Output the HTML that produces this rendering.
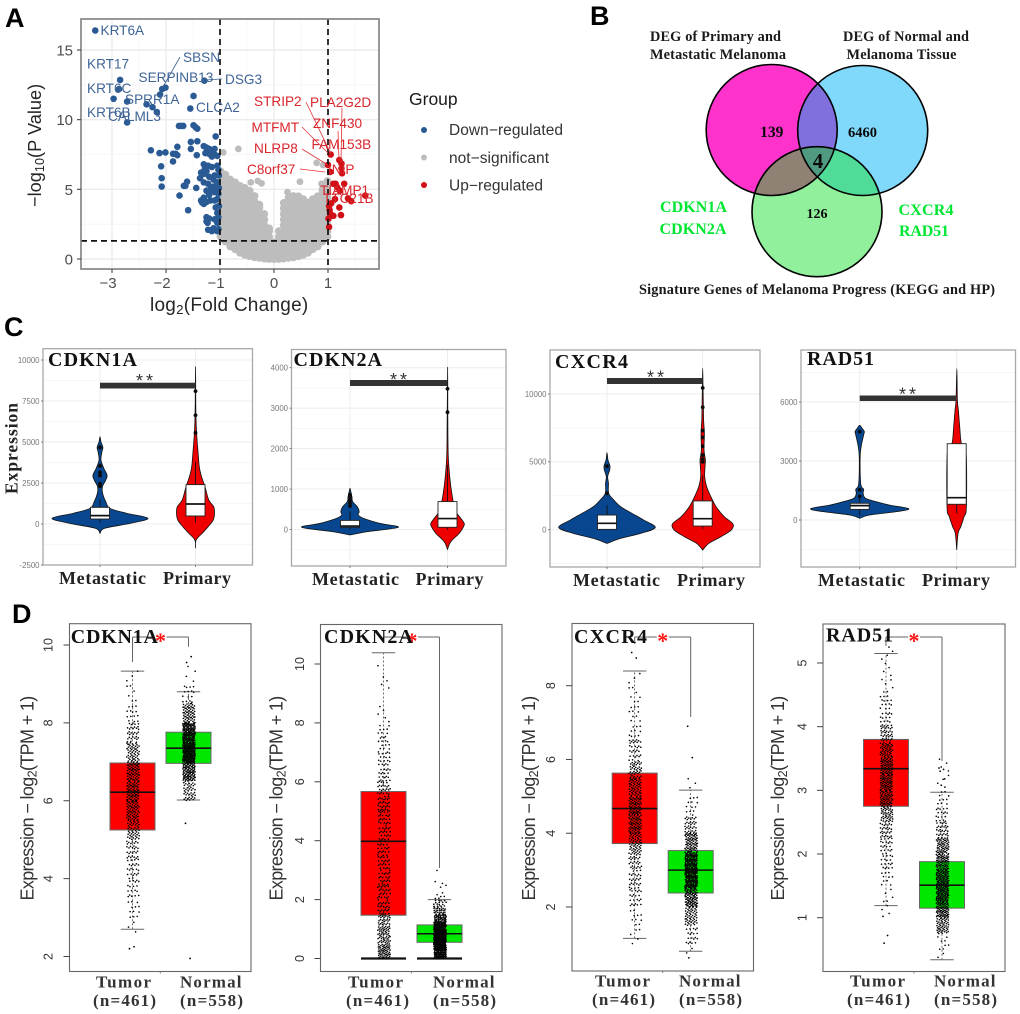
<!DOCTYPE html>
<html lang="en">
<head>
<meta charset="utf-8">
<title>Melanoma differential expression figure</title>
<style>
html,body{margin:0;padding:0;background:#fff;width:1020px;height:1014px;overflow:hidden}
svg{display:block;filter:blur(0.3px)}
.sans{font-family:"Liberation Sans",sans-serif}
.serif{font-family:"Liberation Serif",serif;font-weight:bold}
.letter{font-family:"Liberation Sans",sans-serif;font-weight:bold;font-size:27px;fill:#000}
.gb{font-size:13.6px;fill:#3f6496}
.gr{font-size:13.6px;fill:#d9262c}
.tick{font-size:15px;fill:#4d4d4d}
</style>
</head>
<body>
<svg id="figure" width="1020" height="1014" viewBox="0 0 1020 1014" xmlns="http://www.w3.org/2000/svg">
  <rect width="1020" height="1014" fill="#fff"/>

  <text class="letter" x="5" y="27">A</text>
  <text class="letter" x="590" y="25">B</text>
  <text class="letter" x="4" y="336">C</text>
  <text class="letter" x="12" y="623">D</text>

  <!-- PANEL A -->
  <g id="volcano"></g>
  <g class="sans">
    <g stroke="#3f6496" stroke-width="0.8">
      <line x1="180" y1="57" x2="163" y2="87"/>
      <line x1="203" y1="80" x2="222" y2="79"/>
    </g>
    <g stroke="#e0343a" stroke-width="0.8">
      <line x1="306" y1="102" x2="331" y2="154"/>
      <line x1="342" y1="108" x2="341" y2="163"/>
      <line x1="338" y1="131" x2="339" y2="160"/>
      <line x1="302" y1="127" x2="328" y2="153"/>
      <line x1="302" y1="149" x2="328" y2="165"/>
      <line x1="300" y1="169" x2="325" y2="172"/>
    </g>
    <text class="gb" x="100.5" y="35">KRT6A</text>
    <text class="gb" x="87" y="68.5">KRT17</text>
    <text class="gb" x="183" y="62">SBSN</text>
    <text class="gb" x="138.5" y="82">SERPINB13</text>
    <text class="gb" x="225" y="84">DSG3</text>
    <text class="gb" x="87" y="93">KRT6C</text>
    <text class="gb" x="125" y="104">SPRR1A</text>
    <text class="gb" x="196" y="112">CLCA2</text>
    <text class="gb" x="87" y="117">KRT6B</text>
    <text class="gb" x="108" y="121">CALML3</text>
    <text class="gr" x="254" y="106">STRIP2</text>
    <text class="gr" x="310" y="107">PLA2G2D</text>
    <text class="gr" x="313" y="128">ZNF430</text>
    <text class="gr" x="251.5" y="132">MTFMT</text>
    <text class="gr" x="311.5" y="149">FAM153B</text>
    <text class="gr" x="254" y="153">NLRP8</text>
    <text class="gr" x="328" y="174">INIP</text>
    <text class="gr" x="247" y="174">C8orf37</text>
    <text class="gr" x="320" y="195">TIAMP1</text>
    <text class="gr" x="323" y="203">TTC21B</text>
  </g>
  <text class="sans" transform="translate(41,207) rotate(-90)" font-size="18.2" fill="#262626">−log<tspan font-size="12.7" dy="3">10</tspan><tspan dy="-3">(P Value)</tspan></text>
  <text class="sans" x="150" y="311" font-size="19" letter-spacing="0.25" fill="#262626">log<tspan font-size="13.3" dy="3">2</tspan><tspan dy="-3">(Fold Change)</tspan></text>

  <g class="sans">
    <text x="409" y="105" font-size="17.5" fill="#1a1a1a">Group</text>
    <circle cx="424" cy="130" r="3" fill="#2a5a94"/>
    <text x="449" y="135" font-size="15.5" textLength="114" fill="#333">Down−regulated</text>
    <circle cx="424" cy="157.5" r="3" fill="#bdbdbd"/>
    <text x="449" y="163" font-size="15.5" textLength="100" fill="#333">not−significant</text>
    <circle cx="424" cy="185" r="3" fill="#d00f17"/>
    <text x="449" y="190.5" font-size="15.5" textLength="94" fill="#333">Up−regulated</text>
  </g>

  <!-- PANEL B -->
  <g>
    <defs>
      <clipPath id="clip-m"><circle cx="771.7" cy="130" r="65.5"/></clipPath>
      <clipPath id="clip-b"><circle cx="862.7" cy="130.5" r="65"/></clipPath>
    </defs>
    <circle cx="771.7" cy="130" r="65.5" fill="#ff33cc"/>
    <circle cx="862.7" cy="130.5" r="65" fill="#80d8fb"/>
    <circle cx="817" cy="211.7" r="65" fill="#90f09c"/>
    <circle cx="862.7" cy="130.5" r="65" fill="#8070dd" clip-path="url(#clip-m)"/>
    <circle cx="817" cy="211.7" r="65" fill="#8f8275" clip-path="url(#clip-m)"/>
    <circle cx="817" cy="211.7" r="65" fill="#50dc98" clip-path="url(#clip-b)"/>
    <g clip-path="url(#clip-m)"><circle cx="817" cy="211.7" r="65" fill="#4f9a80" clip-path="url(#clip-b)"/></g>
    <circle cx="771.7" cy="130" r="65.5" fill="none" stroke="#000" stroke-width="1.6"/>
    <circle cx="862.7" cy="130.5" r="65" fill="none" stroke="#000" stroke-width="1.6"/>
    <circle cx="817" cy="211.7" r="65" fill="none" stroke="#000" stroke-width="1.6"/>
    <g class="serif" fill="#1a1a1a">
      <text x="650" y="41" font-size="14.3" textLength="131">DEG of Primary and</text>
      <text x="650" y="59" font-size="14.3" textLength="136">Metastatic Melanoma</text>
      <text x="843" y="41" font-size="14.3" textLength="126">DEG of Normal and</text>
      <text x="846.5" y="59" font-size="14.3" textLength="110">Melanoma Tissue</text>
      <text x="639" y="294" font-size="14.3" textLength="356">Signature Genes of Melanoma Progress (KEGG and HP)</text>
    </g>
    <g class="serif" fill="#0a0a0a" text-anchor="middle">
      <text x="771.7" y="137" font-size="15.5">139</text>
      <text x="862.5" y="137" font-size="14.5">6460</text>
      <text x="818" y="168" font-size="21">4</text>
      <text x="817" y="218" font-size="14">126</text>
    </g>
    <g class="serif" fill="#00e632" font-size="16">
      <text x="660" y="212" textLength="67">CDKN1A</text>
      <text x="659.5" y="234" textLength="67">CDKN2A</text>
      <text x="898.5" y="215" textLength="55">CXCR4</text>
      <text x="899" y="236" textLength="50">RAD51</text>
    </g>
  </g>

  <text class="serif" transform="translate(17.5,494) rotate(-90)" font-size="17.5" textLength="91" fill="#222">Expression</text>

  <!-- PANEL C and D drawn by script -->
  <g id="violins"></g>
  <g id="boxes"></g>
</svg>

<script>
/* ---------- Panel A data (log2 fold change, -log10 p) ---------- */
const volcanoXTicks = [-3, -2, -1, 0, 1];
const volcanoYTicks = [0, 5, 10, 15];
const volcanoThresholdsX = [-1, 1];
const volcanoThresholdY = 1.3;
const downPoints = [
 [-3.31,16.4],[-2.85,12.85],[-2.87,12.2],[-2.97,11.5],[-2.72,11.3],[-2.72,9.8],[-2.36,11.1],[-2.25,10.9],[-2.17,10.55],[-2.11,11.8],
 [-2.07,12.2],[-2.01,12.3],[-1.29,12.8],[-1.49,11.7],[-1.55,10.8],[-1.76,9.55],[-1.72,9.55],[-1.68,9.55],[-1.49,9.6],[-1.45,9.45],
 [-1.42,9.35],[-1.08,8.8],[-1.54,8.4],[-1.42,8.45],[-1.79,8.05],[-1.54,7.9],[-2.28,7.8],[-2.12,7.6],[-2.01,7.65],[-1.87,7.55],
 [-1.82,7.55],[-1.79,7.45],[-1.43,7.45],[-1.87,7.0],[-2.09,6.65],[-2.08,5.8],[-2.08,5.2],[-1.67,5.25],[-1.64,5.25],[-1.61,5.55],
 [-1.44,5.1],[-1.75,4.55],[-1.59,3.5],[-1.3,8.1],[-1.25,8.0],[-1.2,7.9],[-1.15,7.8],[-1.1,7.9],[-1.27,7.6],[-1.2,7.55],[-1.1,7.5],
 [-1.05,7.4],[-1.15,7.35],[-1.3,6.8],[-1.28,6.5],[-1.22,6.7],[-1.15,6.6],[-1.05,6.7],[-1.03,6.4],[-1.35,6.2],[-1.3,6.1],[-1.25,6.3],
 [-1.37,5.8],[-1.2,5.9],[-1.1,6.0],[-1.02,6.0],[-1.12,5.7],[-1.3,5.5],[-1.22,5.4],[-1.05,5.5],[-1.12,5.2],[-1.02,5.1],[-1.18,5.0],
 [-1.25,4.9],[-1.1,4.8],[-1.03,4.7],[-1.2,4.6],[-1.3,4.4],[-1.35,4.2],[-1.33,4.05],[-1.25,4.1],[-1.3,3.95],[-1.18,4.2],[-1.1,4.2],
 [-1.05,4.3],[-1.02,3.8],[-1.08,3.7],[-1.05,3.3],[-1.25,3.0],[-1.2,2.9],[-1.25,2.7],[-1.23,2.6],[-1.1,2.85],[-1.03,3.0],[-1.05,2.6],
 [-1.22,2.1],[-1.12,2.2],[-1.03,2.15],[-1.05,2.0],[-1.15,2.0]
];
const upPoints = [
 [1.05,7.5],[1.21,7.1],[1.25,6.85],[1.0,6.75],[1.25,6.5],[1.04,6.25],[1.26,6.15],[1.3,5.4],[1.1,5.4],[1.14,5.4],[1.17,5.15],[1.22,4.9],
 [1.13,4.3],[1.37,4.35],[1.43,4.15],[1.69,4.55],[1.02,3.8],[1.21,3.7],[1.03,3.5],[1.04,3.25],[1.1,3.1],[1.24,3.15],[1.02,2.3],[1.01,2.9],[1.06,4.0]
];
const greyColumnLfc = [-0.99,-0.9,-0.81,-0.72,-0.63,-0.54,-0.45,-0.36,-0.27,-0.18,-0.09,0,0.09,0.18,0.27,0.36,0.45,0.54,0.63,0.72,0.81,0.9,0.99];
const greyColumnP = [
 [1.6,2.0,2.4,2.8,3.2,3.6,4.0,4.4,4.8,5.2,5.6,6.0,6.3],
 [1.25,1.65,2.05,2.45,2.85,3.25,3.65,4.05,4.45,4.85,5.25,5.65,6.05],
 [0.9,1.3,1.7,2.1,2.5,2.9,3.3,3.7,4.1,4.5,4.9,5.3,5.7],
 [0.7,1.1,1.5,1.9,2.3,2.7,3.1,3.5,3.9,4.3,4.7,5.1,5.5],
 [0.45,0.85,1.25,1.65,2.05,2.45,2.85,3.25,3.65,4.05,4.45,4.85,5.25],
 [0.3,0.7,1.1,1.5,1.9,2.3,2.7,3.1,3.5,3.9,4.3,4.7,5.1],
 [0.2,0.6,1.0,1.4,1.8,2.2,2.6,3.0,3.4,3.8,4.2,4.6,4.9],
 [0.12,0.52,0.92,1.32,1.72,2.12,2.52,2.92,3.32,3.72,4.12,4.52],
 [0.08,0.48,0.88,1.28,1.68,2.08,2.48,2.88,3.28,3.68,3.9],
 [0.03,0.43,0.83,1.23,1.63,2.03,2.43,2.83,3.23],
 [0.0,0.4,0.8,1.2,1.6,2.0,2.2],
 [0.0,0.4,0.8,1.2],
 [0.0,0.4,0.8,1.2,1.6,2.0],
 [0.03,0.43,0.83,1.23,1.63,2.03,2.43,2.83,3.23,3.63,4.03],
 [0.08,0.48,0.88,1.28,1.68,2.08,2.48,2.88,3.28,3.68,4.08,4.4],
 [0.12,0.52,0.92,1.32,1.72,2.12,2.52,2.92,3.32,3.72,4.12,4.52],
 [0.2,0.6,1.0,1.4,1.8,2.2,2.6,3.0,3.4,3.8,4.2,4.5],
 [0.3,0.7,1.1,1.5,1.9,2.3,2.7,3.1,3.5,3.9,4.3],
 [0.45,0.85,1.25,1.65,2.05,2.45,2.85,3.25,3.65,4.05],
 [0.7,1.1,1.5,1.9,2.3,2.7,3.1,3.5,3.9,4.3],
 [0.9,1.3,1.7,2.1,2.5,2.9,3.3,3.7,4.1,4.5],
 [1.25,1.65,2.05,2.45,2.85,3.25,3.65,4.05,4.45,4.85,5.0],
 [1.6,2.0,2.4,2.8,3.2,3.6,4.0,4.4,4.8,5.2,5.6]
];
const greyExtras = [[-0.66,7.9],[-0.94,7.65],[0.79,6.9],[0.91,6.75],[0.48,5.55],[-0.43,5.5],[-0.3,5.6],[-0.23,5.43],[0.25,4.8],[0.88,5.4]];

/* ---------- Panel C data ---------- */
const violinCategories = ['Metastatic', 'Primary'];
const cdkn1aTicks = [-2500, 0, 2500, 5000, 7500, 10000];
const cdkn2aTicks = [0, 1000, 2000, 3000, 4000];
const cxcr4Ticks = [0, 5000, 10000];
const rad51Ticks = [0, 3000, 6000];
const cdkn1aMetaValues = [-570,-260,40,345,650,950,1360,1870,2270,2680,2980,3390,3900,4400,4670,5010,5320];
const cdkn1aMetaDensity = [0,.1,.63,1,.56,.21,.12,.055,.05,.12,.147,.08,.02,.04,.06,.02,0];
const cdkn1aPrimValues = [-1480,-975,-570,-160,240,650,1050,1460,2270,2880,3490,4300,5320,6330,7350,9580];
const cdkn1aPrimDensity = [0,.035,.35,.67,.93,1,.96,.7,.5,.32,.2,.14,.07,.03,.015,.005];
const cdkn1aMetaBox = [305,510,1015,100,1500];
const cdkn1aPrimBox = [490,1220,2400,100,3800];
const cdkn1aMetaOutliers = [4670,3540,3150,2950,2450,2300];
const cdkn1aPrimOutliers = [8100,6630,5560];
const cdkn2aMetaValues = [-135,-55,55,150,275,360,440,565,690,810,975,1020];
const cdkn2aMetaDensity = [0,.35,1,.62,.28,.17,.19,.15,.055,.04,.01,0];
const cdkn2aPrimValues = [-490,-300,-95,70,150,275,440,650,1060,1470,1880,2700,4010];
const cdkn2aPrimDensity = [0,.2,.7,.96,1,.8,.5,.36,.2,.1,.04,.02,.01];
const cdkn2aMetaBox = [55,85,225,0,450];
const cdkn2aPrimBox = [55,270,690,0,1600];
const cdkn2aMetaOutliers = [860,800,720,650,580];
const cdkn2aPrimOutliers = [3480,2900];
const cxcr4MetaValues = [-1010,-640,-270,170,710,1200,1700,2190,2680,3420,3910,4400,4720,5140,5680];
const cxcr4MetaDensity = [0,.28,.7,1,.76,.52,.28,.14,.035,.03,.014,.055,.06,.02,0];
const cxcr4PrimValues = [-1500,-1010,-520,-25,420,960,1700,2430,3170,3910,4650,5140,5880,7110,8090,9320,10550,11900];
const cxcr4PrimDensity = [0,.2,.6,.94,1,.71,.44,.27,.13,.066,.077,.088,.044,.055,.03,.02,.01,0];
const cxcr4MetaBox = [25,470,1080,0,1820];
const cxcr4PrimBox = [270,810,2120,60,4000];
const cxcr4MetaOutliers = [4680,2680];
const cxcr4PrimOutliers = [10450,9020,7300,6800,6150,5500,5200,5000];
const rad51MetaValues = [85,254,424,576,763,930,1100,1360,1560,1860,3390,4320,4490,4660,4810];
const rad51MetaDensity = [0,.2,.75,1,.6,.34,.12,.07,.08,.02,.013,.08,.095,.05,0];
const rad51PrimValues = [-1525,-680,-340,170,680,3390,3900,4750,5600,6100,7700];
const rad51PrimDensity = [0,.14,.42,.76,1,.97,.48,.31,.17,.07,.017];
const rad51MetaBox = [540,730,850,220,1200];
const rad51PrimBox = [800,1135,3880,340,3880];
const rad51MetaOutliers = [4490,1530,1200];
const rad51PrimOutliers = [];

/* ---------- Panel D data: histogram counts per bin of the jittered dots, box stats [q1, median, q3, low, high] ---------- */
const boxCategories = ['Tumor', 'Normal'];
const boxCounts = ['(n=461)', '(n=558)'];
const d1Ticks = [2, 4, 6, 8, 10];
const d2Ticks = [0, 2, 4, 6, 8, 10];
const d3Ticks = [2, 4, 6, 8];
const d4Ticks = [1, 2, 3, 4, 5];
const d1TumorBox = [5.25,6.22,6.97,2.7,9.33];
const d1NormalBox = [6.96,7.35,7.76,6.02,8.8];
const d1TumorBins = [3,12,18,24,30,48,62,72,68,52,32,14,6,3];
const d1NormalBins = [40,110,170,140,65,15,4];
const d1TumorOutliers = [2.2,2.25];
const d1NormalOutliers = [5.42,1.95,9.55,9.7];
const d2TumorBox = [1.47,3.98,5.67,0,10.38];
const d2NormalBox = [0.55,0.84,1.14,0,2.0];
const d2TumorBins = [60,45,38,28,26,24,22,22,22,24,28,26,20,18,14,10,4,1,3,2];
const d2NormalBins = [70,90,110,110,75,45,28,16,6,2,2,1];
const d2TumorOutliers = [];
const d2NormalOutliers = [];
const d3TumorBox = [3.72,4.67,5.63,1.15,8.4];
const d3NormalBox = [2.38,3.0,3.53,0.8,5.17];
const d3TumorBins = [5,10,22,28,34,50,70,70,55,42,24,14,10,7,3];
const d3NormalBins = [2,20,50,95,135,130,75,35,12,3];
const d3TumorOutliers = [8.9,8.75];
const d3NormalOutliers = [6.9,6.05,0.62];
const d4TumorBox = [2.75,3.34,3.8,1.19,5.15];
const d4NormalBox = [1.15,1.51,1.88,0.34,2.97];
const d4TumorBins = [3,5,10,18,22,30,45,62,70,65,50,35,18,14,6,4,4];
const d4NormalBins = [2,8,50,85,105,100,80,60,32,18,10,4,4];
const d4TumorOutliers = [1.02,0.72,0.6];
const d4NormalOutliers = [3.35,3.33,3.3,3.18,3.08];

/* ---------- helpers ---------- */
const NS = 'http://www.w3.org/2000/svg';
function mk(tag, attrs, parent) {
  const el = document.createElementNS(NS, tag);
  for (const k in attrs) el.setAttribute(k, attrs[k]);
  parent.appendChild(el);
  return el;
}
function linear(d0, d1, r0, r1) { return v => r0 + (v - d0) * (r1 - r0) / (d1 - d0); }
function smooth(p) {
  let d = 'M' + p[0][0].toFixed(2) + ' ' + p[0][1].toFixed(2);
  for (let i = 0; i < p.length - 1; i++) {
    const a = p[Math.max(0, i - 1)], b = p[i], c = p[i + 1], e = p[Math.min(p.length - 1, i + 2)];
    d += 'C' + (b[0] + (c[0] - a[0]) / 6).toFixed(2) + ' ' + (b[1] + (c[1] - a[1]) / 6).toFixed(2) + ' ' +
         (c[0] - (e[0] - b[0]) / 6).toFixed(2) + ' ' + (c[1] - (e[1] - b[1]) / 6).toFixed(2) + ' ' +
         c[0].toFixed(2) + ' ' + c[1].toFixed(2);
  }
  return d;
}
function addText(parent, name, str, attrs) {
  const el = mk('text', attrs, parent);
  
  
  el.textContent = str;
  return el;
}
function addLine(parent, name, x1, y1, x2, y2, stroke, width, dash) {
  const el = mk('line', {x1, y1, x2, y2, stroke, 'stroke-width': width}, parent);
  if (dash) el.setAttribute('stroke-dasharray', dash);
  
  
  return el;
}
function addGroup(parent, name) {
  const el = mk('g', {}, parent);
  
  
  return el;
}

/* ---------- Panel A ---------- */
(function () {
  const root = document.getElementById('volcano');
  const x = linear(-1, 1, 220, 328), y = linear(0, 15, 259, 50);
  const left = 81, right = 379, top = 19, bottom = 269;
  const bg = mk('rect', {x: left, y: top, width: right - left, height: bottom - top, fill: '#fff'}, root);
  
  
  [-3.5,-2.5,-1.5,-0.5,0.5,1.5].forEach(t => addLine(root, 'volcano-minor-gridline-x', x(t), top, x(t), bottom, '#f5f5f5', 0.8));
  [2.5,7.5,12.5].forEach(t => addLine(root, 'volcano-minor-gridline-y', left, y(t), right, y(t), '#f5f5f5', 0.8));
  volcanoXTicks.forEach(t => addLine(root, 'volcano-gridline-x', x(t), top, x(t), bottom, '#ececec', 1.4));
  volcanoYTicks.forEach(t => addLine(root, 'volcano-gridline-y', left, y(t), right, y(t), '#ececec', 1.4));

  const gGrey = addGroup(root, 'volcano-not-significant-points');
  const dot = (g, name, lfc, p, fill, r) => {
    const c = mk('circle', {cx: x(lfc).toFixed(2), cy: y(p).toFixed(2), r, fill}, g);
    
    
  };
  greyColumnLfc.forEach((lfc, i) => greyColumnP[i].forEach(p => dot(gGrey, 'not-significant-point', lfc, p, '#bdbdbd', 3.9)));
  greyExtras.forEach(q => dot(gGrey, 'not-significant-point', q[0], q[1], '#bdbdbd', 3.4));
  const gDown = addGroup(root, 'volcano-down-regulated-points');
  downPoints.forEach(q => dot(gDown, 'down-regulated-point', q[0], q[1], '#2a5a94', 3.3));
  const gUp = addGroup(root, 'volcano-up-regulated-points');
  upPoints.forEach(q => dot(gUp, 'up-regulated-point', q[0], q[1], '#d00f17', 3.3));

  volcanoThresholdsX.forEach(t => addLine(root, 'fold-change-threshold', x(t), top, x(t), bottom, '#111', 1.7, '6 4'));
  addLine(root, 'p-value-threshold', left, y(volcanoThresholdY), right, y(volcanoThresholdY), '#111', 1.7, '6 4');

  const frame = mk('rect', {x: left, y: top, width: right - left, height: bottom - top, fill: 'none', stroke: '#7f7f7f', 'stroke-width': 1.6}, root);
  
  

  volcanoXTicks.forEach(t => {
    addLine(root, 'volcano-x-tick', x(t), bottom, x(t), bottom + 4, '#444', 1.1);
    addText(root, 'volcano-x-tick-label', (t < 0 ? '−' + (-t) : String(t)), {x: x(t) - (t < 0 ? 4 : 0), y: 288, 'text-anchor': 'middle', class: 'sans tick'});
  });
  volcanoYTicks.forEach(t => {
    addLine(root, 'volcano-y-tick', left - 4, y(t), left, y(t), '#444', 1.1);
    addText(root, 'volcano-y-tick-label', String(t), {x: 73, y: y(t) + 5.5, 'text-anchor': 'end', class: 'sans tick'});
  });
})();

/* ---------- Panel C ---------- */
const violinPanels = [
 {gene:'CDKN1A', box:[43,348.7,252.5,565], yA:[0,524], yB:[10000,360], cat:[100,195.5], ticks:cdkn1aTicks, minor:[-1250,1250,3750,6250,8750],
  half:[48,19], sig:[382.7,388.5,146,387], title:[48,366,89], labels:[[59,584],[163,584]], 
  v:[[cdkn1aMetaValues,cdkn1aMetaDensity,cdkn1aMetaBox,cdkn1aMetaOutliers],[cdkn1aPrimValues,cdkn1aPrimDensity,cdkn1aPrimBox,cdkn1aPrimOutliers]]},
 {gene:'CDKN2A', box:[291.5,349.5,506,566], yA:[0,529.5], yB:[4000,367.7], cat:[350,447.5], ticks:cdkn2aTicks, minor:[-500,500,1500,2500,3500],
  half:[48.3,16.7], sig:[380,386,400,386], title:[293.5,366,88.5], labels:[[312,585],[415.5,585]],
  v:[[cdkn2aMetaValues,cdkn2aMetaDensity,cdkn2aMetaBox,cdkn2aMetaOutliers],[cdkn2aPrimValues,cdkn2aPrimDensity,cdkn2aPrimBox,cdkn2aPrimOutliers]]},
 {gene:'CXCR4', box:[550,350,760,567], yA:[0,529.7], yB:[10000,394], cat:[607,702.7], ticks:cxcr4Ticks, minor:[-2500,2500,7500],
  half:[48.3,30.3], sig:[378,384,657,383.5], title:[555,368,73], labels:[[573,586],[677,586]],
  v:[[cxcr4MetaValues,cxcr4MetaDensity,cxcr4MetaBox,cxcr4MetaOutliers],[cxcr4PrimValues,cxcr4PrimDensity,cxcr4PrimBox,cxcr4PrimOutliers]]},
 {gene:'RAD51', box:[801,350,1015.5,567], yA:[0,520], yB:[6000,402], cat:[859.7,956.7], ticks:rad51Ticks, minor:[-1500,1500,4500,7500],
  half:[49,9.7], sig:[395.5,401,909,400.5], title:[807,365,67], labels:[[818,586],[922,586]],
  v:[[rad51MetaValues,rad51MetaDensity,rad51MetaBox,rad51MetaOutliers],[rad51PrimValues,rad51PrimDensity,rad51PrimBox,rad51PrimOutliers]]}
];
const violinFills = ['#08478f', '#ee0000'];

violinPanels.forEach(P => {
  const slug = P.gene.toLowerCase();
  const g = addGroup(document.getElementById('violins'), 'violin-panel-' + slug);
  const [l, t, r, b] = P.box;
  const y = linear(P.yA[0], P.yB[0], P.yA[1], P.yB[1]);
  P.minor.forEach(m => addLine(g, 'violin-minor-gridline', l, y(m), r, y(m), '#f3f3f3', 0.7));
  P.ticks.forEach(m => addLine(g, 'violin-gridline', l, y(m), r, y(m), '#ececec', 1));
  P.cat.forEach(c => addLine(g, 'violin-category-gridline', c, t, c, b, '#ececec', 1));

  P.v.forEach((set, i) => {
    const cx = P.cat[i], hw = P.half[i], cat = violinCategories[i].toLowerCase();
    const [vals, dens, bx, out] = set;
    const pts = [];
    vals.forEach((v, k) => pts.push([cx + dens[k] * hw, y(v)]));
    for (let k = vals.length - 2; k >= 0; k--) pts.push([cx - dens[k] * hw, y(vals[k])]);
    const path = mk('path', {d: smooth(pts) + 'Z', fill: violinFills[i], stroke: '#111', 'stroke-width': 0.8}, g);
    
    

    addLine(g, 'violin-whisker', cx, y(bx[3]), cx, y(bx[4]), '#111', 0.9);
    out.forEach(o => {
      const c = mk('circle', {cx, cy: y(o).toFixed(2), r: 1.9, fill: '#0a0a0a'}, g);
      
      
    });
    const rc = mk('rect', {x: cx - 9.5, y: y(bx[2]), width: 19, height: y(bx[0]) - y(bx[2]), fill: '#fff', stroke: '#222', 'stroke-width': 0.9}, g);
    
    
    addLine(g, 'violin-box-median', cx - 9.5, y(bx[1]), cx + 9.5, y(bx[1]), '#111', 1.7);
  });

  const frame = mk('rect', {x: l, y: t, width: r - l, height: b - t, fill: 'none', stroke: '#a8a8a8', 'stroke-width': 1.3}, g);
  
  

  P.ticks.forEach(m => {
    addLine(g, 'violin-y-tick', l - 2, y(m), l, y(m), '#666', 0.8);
    addText(g, 'violin-y-tick-label', String(m), {x: l - 3.5, y: y(m) + 2.8, 'text-anchor': 'end', 'font-size': 7.8, fill: '#777', class: 'sans'});
  });
  P.cat.forEach((c, i) => {
    addLine(g, 'violin-x-tick', c, b, c, b + 2, '#666', 0.8);
    addText(g, 'violin-x-label', violinCategories[i], {x: P.labels[i][0], y: P.labels[i][1], 'font-size': 18, fill: '#222', class: 'serif', textLength: i ? 68 : 87});
  });

  const bar = mk('rect', {x: P.cat[0], y: P.sig[0], width: P.cat[1] - P.cat[0], height: P.sig[1] - P.sig[0], fill: '#333'}, g);
  
  
  addText(g, 'significance-stars', '**', {x: P.sig[2], y: P.sig[3], 'text-anchor': 'middle', 'font-size': 18, fill: '#333', class: 'sans', 'letter-spacing': 3});
  addText(g, 'violin-gene-title', P.gene, {x: P.title[0], y: P.title[1], 'font-size': 20, fill: '#111', class: 'serif', textLength: P.title[2]});
});

/* ---------- Panel D ---------- */
const boxPanels = [
 {gene:'CDKN1A', box:[69.5,623.7,251,971.5], yA:[2,956.5], yB:[10,645], cat:[132.5,188.5], ticks:d1Ticks, start:[2.5,6], step:[.5,.5],
  bracket:[662,646.7,160.5], title:[70.7,643,87.3], ylabel:[33.5,52.7], lab:[[96,93],[180,180]], yBase:[987.3,1006],
  s:[[d1TumorBox,d1TumorBins,d1TumorOutliers],[d1NormalBox,d1NormalBins,d1NormalOutliers]]},
 {gene:'CDKN2A', box:[320.5,624.5,502,971.5], yA:[0,958.5], yB:[10,664], cat:[383.5,439.5], ticks:d2Ticks, start:[0,0], step:[.5,.25],
  bracket:[643,868,412], title:[324,643,89], ylabel:[282.5,304], lab:[[348,346],[433,433]], yBase:[987.3,1006], floor:true,
  s:[[d2TumorBox,d2TumorBins,d2TumorOutliers],[d2NormalBox,d2NormalBins,d2NormalOutliers]]},
 {gene:'CXCR4', box:[572,623.5,753.5,971], yA:[2,907], yB:[8,685.7], cat:[634.7,690.7], ticks:d3Ticks, start:[1,.5], step:[.5,.5],
  bracket:[644,717,662.7], title:[574,643,73], ylabel:[535,555], lab:[[595,592],[679,679]], yBase:[986.7,1005],
  s:[[d3TumorBox,d3TumorBins,d3TumorOutliers],[d3NormalBox,d3NormalBins,d3NormalOutliers]]},
 {gene:'RAD51', box:[823,624,1005,971.5], yA:[1,917.7], yB:[5,663], cat:[886,942], ticks:d4Ticks, start:[1,.25], step:[.25,.25],
  bracket:[646,761,914], title:[826,641.7,67], ylabel:[784,806.7], lab:[[850,847],[934,934]], yBase:[986.7,1005],
  s:[[d4TumorBox,d4TumorBins,d4TumorOutliers],[d4NormalBox,d4NormalBins,d4NormalOutliers]]}
];
const boxFills = ['#ff0000', '#00e800'];

boxPanels.forEach(P => {
  const slug = P.gene.toLowerCase();
  const g = addGroup(document.getElementById('boxes'), 'box-panel-' + slug);
  const [l, t, r, b] = P.box;
  const y = linear(P.yA[0], P.yB[0], P.yA[1], P.yB[1]);

  P.s.forEach((set, i) => {
    const cx = P.cat[i], cat = boxCategories[i].toLowerCase();
    const [bx, bins, out] = set;
    addLine(g, 'whisker-' + cat, cx, y(bx[3]), cx, y(bx[4]), '#333', 0.7, '2 2');
    addLine(g, 'whisker-cap-low', cx - 11.7, y(bx[3]), cx + 11.7, y(bx[3]), '#666', 1);
    addLine(g, 'whisker-cap-high', cx - 11.7, y(bx[4]), cx + 11.7, y(bx[4]), '#666', 1);
    const rc = mk('rect', {x: cx - 22.5, y: y(bx[2]), width: 45, height: y(bx[0]) - y(bx[2]), fill: boxFills[i], stroke: '#666', 'stroke-width': 1}, g);
    
    
    addLine(g, 'box-median', cx - 22.5, y(bx[1]), cx + 22.5, y(bx[1]), '#111', 1.6);
    if (P.floor) addLine(g, 'zero-expression-bar', cx - 22.5, y(0), cx + 22.5, y(0), '#111', 2.2);

    const dots = addGroup(g, 'jitter-dots-' + cat);
    let k = 0;
    bins.forEach((count, bi) => {
      for (let n = 0; n < count; n++) {
        k++;
        const value = P.start[i] + P.step[i] * (bi + (k * 0.7548777) % 1);
        const off = ((k * 0.5698403) % 1 - 0.5) * 12.5;
        const c = mk('circle', {cx: (cx + 0.5 + off).toFixed(2), cy: y(value).toFixed(2), r: 0.82, fill: '#050505'}, dots);
        
        
      }
    });
    out.forEach((v, n) => {
      const c = mk('circle', {cx: (cx + 1 + ((n * 0.5698403) % 1 - 0.5) * 8).toFixed(2), cy: y(v).toFixed(2), r: 0.9, fill: '#050505'}, dots);
      
      
    });

    addText(g, 'box-x-label', boxCategories[i], {x: P.lab[i][0], y: P.yBase[0], 'font-size': 17, fill: '#333', class: 'serif', textLength: i ? 61.5 : 55});
    addText(g, 'box-sample-size', boxCounts[i], {x: P.lab[i][1], y: P.yBase[1], 'font-size': 17, fill: '#333', class: 'serif', textLength: 63});
  });

  const frame = mk('rect', {x: l, y: t, width: r - l, height: b - t, fill: 'none', stroke: '#666', 'stroke-width': 1.1}, g);
  
  

  const [lx, rx] = P.cat, by = 637;
  addLine(g, 'bracket-left', lx, by, lx, P.bracket[0], '#666', 1);
  addLine(g, 'bracket-right', rx, by, rx, P.bracket[1], '#666', 1);
  addLine(g, 'bracket-top-left', lx, by, P.bracket[2] - 6, by, '#666', 1);
  addLine(g, 'bracket-top-right', P.bracket[2] + 6, by, rx, by, '#666', 1);
  addText(g, 'significance-star', '*', {x: P.bracket[2], y: by + 11, 'text-anchor': 'middle', 'font-size': 22, fill: '#ff1010', class: 'serif'});
  addText(g, 'box-gene-title', P.gene, {x: P.title[0], y: P.title[1], 'font-size': 20, fill: '#111', class: 'serif', textLength: P.title[2]});

  P.ticks.forEach(m => {
    addLine(g, 'box-y-tick', l - 6, y(m), l, y(m), '#444', 1);
    addText(g, 'box-y-tick-label', String(m), {transform: 'translate(' + P.ylabel[1] + ',' + y(m).toFixed(2) + ') rotate(-90)', 'text-anchor': 'middle', 'font-size': 12.5, fill: '#333', class: 'sans'});
  });
  addLine(g, 'box-x-tick', (l + r) / 2, b, (l + r) / 2, b + 2, '#666', 0.8);

  const yl = mk('text', {transform: 'translate(' + P.ylabel[0] + ',900.5) rotate(-90)', 'font-size': 18, fill: '#333', class: 'sans', 'letter-spacing': 0.2}, g);
  
  
  yl.appendChild(document.createTextNode('Expression − log'));
  const sub = mk('tspan', {'font-size': 12.6, dy: 3}, yl);
  sub.textContent = '2';
  const rest = mk('tspan', {dy: -3}, yl);
  rest.textContent = '(TPM + 1)';
  yl.setAttribute('textLength', 205);
});
</script>
</body>
</html>
